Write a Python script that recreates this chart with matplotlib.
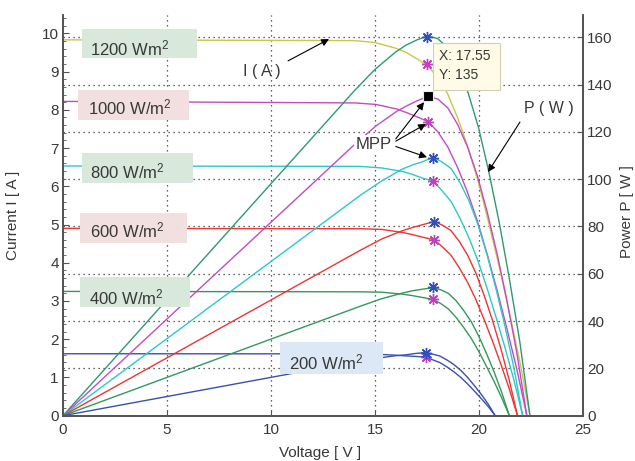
import matplotlib
matplotlib.use('Agg')
import matplotlib.pyplot as plt
from matplotlib.patches import Rectangle
from matplotlib.ticker import MultipleLocator

# I-V and P-V curves of a PV module for six irradiance levels
v1200 = [0, 14, 15, 16, 16.5, 17, 17.5, 18.0, 18.49, 18.99, 19.48, 19.98, 20.47, 20.97, 21.46, 21.96, 22.45]
i1200 = [9.83, 9.81, 9.76, 9.61, 9.50, 9.34, 9.17, 8.86, 8.42, 7.77, 7.00, 6.09, 5.04, 3.90, 2.70, 1.43, 0]
p1200 = [0, 137.3, 146.4, 153.8, 156.7, 158.8, 160.5, 159.5, 155.7, 147.6, 136.4, 121.7, 103.2, 81.8, 57.9, 31.4, 0]

v1000 = [0, 14.05, 15.05, 16.05, 16.55, 17.05, 17.55, 18.03, 18.5, 18.98, 19.45, 19.93, 20.4, 20.88, 21.35, 21.83, 22.3]
i1000 = [8.22, 8.18, 8.14, 8.02, 7.92, 7.81, 7.69, 7.42, 7.03, 6.48, 5.84, 5.08, 4.21, 3.26, 2.26, 1.19, 0]
p1000 = [0, 114.9, 122.5, 128.7, 131.1, 133.2, 135.0, 133.8, 130.1, 123.0, 113.6, 101.2, 85.9, 68.1, 48.3, 26.0, 0]

v800 = [0, 14.3, 15.3, 16.3, 16.8, 17.3, 17.8, 18.23, 18.66, 19.09, 19.52, 19.95, 20.38, 20.81, 21.24, 21.67, 22.1]
i800 = [6.53, 6.52, 6.48, 6.39, 6.31, 6.21, 6.14, 5.88, 5.60, 5.16, 4.65, 4.05, 3.35, 2.59, 1.80, 0.95, 0]
p800 = [0, 93.2, 99.1, 104.2, 106.0, 107.4, 109.3, 107.2, 104.5, 98.5, 90.8, 80.8, 68.3, 53.9, 38.2, 20.6, 0]

v600 = [0, 14.35, 15.35, 16.35, 16.85, 17.35, 17.85, 18.25, 18.65, 19.05, 19.45, 19.85, 20.25, 20.65, 21.05, 21.45, 21.85]
i600 = [4.90, 4.89, 4.87, 4.79, 4.73, 4.66, 4.60, 4.41, 4.20, 3.87, 3.49, 3.04, 2.51, 1.95, 1.35, 0.71, 0]
p600 = [0, 70.2, 74.8, 78.3, 79.7, 80.9, 82.1, 80.5, 78.3, 73.7, 67.9, 60.3, 50.8, 40.3, 28.4, 15.2, 0]

v400 = [0, 14.3, 15.3, 16.3, 16.8, 17.3, 17.8, 18.17, 18.53, 18.9, 19.26, 19.63, 20.0, 20.36, 20.73, 21.09, 21.46]
i400 = [3.25, 3.24, 3.23, 3.18, 3.14, 3.09, 3.04, 2.93, 2.79, 2.57, 2.31, 2.02, 1.67, 1.29, 0.89, 0.47, 0]
p400 = [0, 46.3, 49.4, 51.8, 52.8, 53.5, 54.1, 53.2, 51.7, 48.6, 44.5, 39.7, 33.4, 26.3, 18.4, 9.9, 0]

v200 = [0, 13.95, 14.95, 15.95, 16.45, 16.95, 17.45, 17.78, 18.12, 18.45, 18.78, 19.12, 19.45, 19.78, 20.11, 20.45, 20.78]
i200 = [1.62, 1.617, 1.609, 1.584, 1.565, 1.55, 1.53, 1.46, 1.388, 1.28, 1.153, 1.004, 0.831, 0.643, 0.446, 0.235, 0]
p200 = [0, 22.6, 24.1, 25.3, 25.7, 26.3, 26.7, 26.0, 25.2, 23.6, 21.7, 19.2, 16.2, 12.7, 9.0, 4.8, 0]

# maximum power points
mpp_v = [17.5, 17.55, 17.8, 17.85, 17.8, 17.45]
mpp_i = [9.21, 7.69, 6.14, 4.60, 3.04, 1.53]
mpp_p = [160.2, 135.0, 109.0, 82.0, 54.3, 26.5]

labels = ['1200 Wm$^2$', '1000 W/m$^2$', '800 W/m$^2$', '600 W/m$^2$', '400 W/m$^2$', '200 W/m$^2$']
p_ticks = [20, 40, 60, 80, 100, 120, 140, 160]

plt.rcParams['font.family'] = ['Liberation Sans', 'DejaVu Sans']
plt.rcParams['mathtext.fontset'] = 'custom'
plt.rcParams['mathtext.rm'] = 'Liberation Sans'
plt.rcParams['mathtext.it'] = 'Liberation Sans:italic'

curves = [
    (v1200, i1200, p1200, '#c8c846', '#2e9a72'),
    (v1000, i1000, p1000, '#c24cc2', '#c24cc2'),
    (v800, i800, p800, '#2ec8c8', '#2ec8c8'),
    (v600, i600, p600, '#f03434', '#f03434'),
    (v400, i400, p400, '#34985e', '#34985e'),
    (v200, i200, p200, '#3a50b0', '#3a50b0'),
]

I_MAX, P_MAX = 10.48, 169.4
txt_col = '#383838'
spine_col = '#555555'

fig = plt.figure(figsize=(6.35, 4.61), dpi=100)
ax = fig.add_axes([0.0992, 0.0983, 0.8189, 0.8692])
ax2 = ax.twinx()

# dotted grid (vertical from voltage ticks, horizontal from power ticks)
for x in [5, 10, 15, 20]:
    ax.axvline(x, ls=(0, (1, 3)), color='#333333', lw=0.9, zorder=0)
for p in p_ticks:
    ax.axhline(p * I_MAX / P_MAX, ls=(0, (1, 3)), color='#333333', lw=0.9, zorder=0)

for v, i, p, ci, cp in curves:
    ax.plot(v, i, color=ci, lw=1.0)
    ax2.plot(v, p, color=cp, lw=1.0)

ax.plot(mpp_v, mpp_i, ls='none', marker=(8, 2, 0), ms=8, mew=1.0, color='#c040c0', zorder=4)
ax2.plot(mpp_v, mpp_p, ls='none', marker=(8, 2, 0), ms=8, mew=1.0, color='#3050c0', zorder=4)
ax2.plot([17.55], [135], ls='none', marker='s', ms=7, color='black', mec='#f0f0c0', mew=0.8, zorder=8)

ax.set_xlim(0, 25)
ax.set_ylim(0, I_MAX)
ax2.set_ylim(0, P_MAX)
ax.set_xticks([0, 5, 10, 15, 20, 25])
ax.set_yticks(range(0, 11))
ax.yaxis.set_minor_locator(MultipleLocator(0.2))
ax2.set_yticks([0] + p_ticks)

for a in (ax, ax2):
    a.spines['top'].set_visible(False)
    for s in ('left', 'right', 'bottom'):
        a.spines[s].set_color(spine_col)
        a.spines[s].set_linewidth(1.3)
    a.tick_params(direction='in', length=4, colors=spine_col, labelcolor=txt_col, labelsize=11, pad=3)
ax.tick_params(axis='y', which='minor', direction='in', length=2, color=spine_col)
ax.tick_params(axis='x', pad=5)

ax.set_xlabel('Voltage [ V ]', fontsize=11, color=txt_col)
ax.xaxis.set_label_coords(0.494, -0.075)
ax.set_ylabel('Current I [ A ]', fontsize=11, color=txt_col)
ax.yaxis.set_label_coords(-0.082, 0.5)
ax2.set_ylabel('Power P [ W ]', fontsize=11, color=txt_col, rotation=90)
ax2.yaxis.set_label_coords(1.072, 0.51)

# irradiance label boxes (drawn on top of the curves)
boxes = [
    (0.91, 9.35, 5.53, 0.76, '#d8e9dc', 1.3, 9.60),
    (0.72, 7.73, 5.34, 0.79, '#f2e0e0', 1.2, 8.05),
    (0.91, 6.08, 5.34, 0.79, '#d8e9dc', 1.3, 6.38),
    (0.82, 4.51, 5.14, 0.79, '#f2e0e0', 1.3, 4.84),
    (0.82, 2.83, 5.28, 0.80, '#d8e9dc', 1.25, 3.09),
    (10.43, 1.09, 4.95, 0.84, '#dce8f6', 10.87, 1.38),
]
for (bx, by, bw, bh, fc, tx, ty), lab in zip(boxes, labels):
    ax2.add_patch(Rectangle((bx, by), bw, bh, transform=ax.transData,
                            facecolor=fc, edgecolor='none', zorder=6))
    ax2.text(tx, ty, lab, transform=ax.transData, fontsize=12, color=txt_col,
             ha='left', va='center', zorder=7)

# data tip
ax2.add_patch(Rectangle((17.79, 8.52), 3.22, 1.22, transform=ax.transData,
                        facecolor='#fffbe6', edgecolor='#cfcfb8', lw=0.8, zorder=6))
ax2.text(18.1, 9.42, 'X: 17.55', transform=ax.transData, fontsize=10, color=txt_col,
         ha='left', va='center', zorder=7)
ax2.text(18.1, 8.92, 'Y: 135', transform=ax.transData, fontsize=10, color=txt_col,
         ha='left', va='center', zorder=7)

arrow = dict(arrowstyle='-|>', color='black', lw=0.8, mutation_scale=11, shrinkA=0, shrinkB=0)

ax2.annotate('', xy=(12.79, 9.85), xytext=(10.82, 9.28), xycoords=ax.transData,
             textcoords=ax.transData, arrowprops=arrow, zorder=7)
ax2.text(9.57, 8.99, 'I ( A )', transform=ax.transData, fontsize=11.5, color=txt_col,
         ha='center', va='center', zorder=7)

ax2.annotate('', xy=(20.43, 6.37), xytext=(21.97, 7.68), xycoords=ax.transData,
             textcoords=ax.transData, arrowprops=arrow, zorder=7)
ax2.text(23.37, 8.04, 'P ( W )', transform=ax.transData, fontsize=11.5, color=txt_col,
         ha='center', va='center', zorder=7)

ax2.text(14.95, 7.08, 'MPP', transform=ax.transData, fontsize=12, color=txt_col,
         ha='center', va='center', zorder=7,
         bbox=dict(facecolor='white', edgecolor='none', pad=1.5))
for tgt, src in [((17.36, 8.2), (16.0, 7.24)),
                 ((17.45, 7.63), (16.0, 7.18)),
                 ((17.5, 6.76), (16.0, 7.04))]:
    ax2.annotate('', xy=tgt, xytext=src, xycoords=ax.transData,
                 textcoords=ax.transData, arrowprops=arrow, zorder=7)

fig.savefig('out.png', dpi=100)
